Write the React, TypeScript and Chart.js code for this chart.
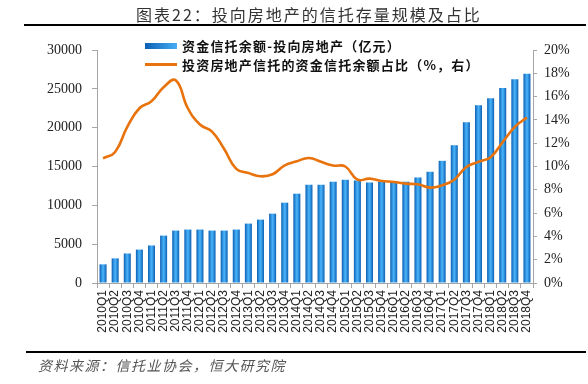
import React, { useEffect, useRef } from "react";
import { Chart, registerables } from "chart.js";

Chart.register(...registerables);

const categories = [
  "2010Q1", "2010Q2", "2010Q3", "2010Q4",
  "2011Q1", "2011Q2", "2011Q3", "2011Q4",
  "2012Q1", "2012Q2", "2012Q3", "2012Q4",
  "2013Q1", "2013Q2", "2013Q3", "2013Q4",
  "2014Q1", "2014Q2", "2014Q3", "2014Q4",
  "2015Q1", "2015Q2", "2015Q3", "2015Q4",
  "2016Q1", "2016Q2", "2016Q3", "2016Q4",
  "2017Q1", "2017Q2", "2017Q3", "2017Q4",
  "2018Q1", "2018Q2", "2018Q3", "2018Q4",
];

const balance = [
  2400, 3170, 3800, 4300, 4830, 6100, 6750, 6880, 6880, 6750, 6750, 6880,
  7650, 8160, 8930, 10340, 11500, 12650, 12650, 13040, 13290, 13200, 12950, 13040,
  13040, 13040, 13590, 14320, 15730, 17750, 20700, 22900, 23800, 25100, 26250, 26930,
];

const share = [
  10.7, 11.25, 13.4, 15.0, 15.6, 16.8, 17.4, 15.0, 13.6, 13.0, 11.5, 9.8,
  9.44, 9.16, 9.33, 10.1, 10.45, 10.73, 10.4, 10.08, 10.0, 8.87, 8.96, 8.76,
  8.67, 8.53, 8.47, 8.19, 8.39, 8.87, 9.96, 10.4, 10.8, 12.1, 13.4, 14.2,
];

const leftTicks = [0, 5000, 10000, 15000, 20000, 25000, 30000];
const rightTicks = [0, 2, 4, 6, 8, 10, 12, 14, 16, 18, 20];

const barLabel = "资金信托余额-投向房地产（亿元）";
const lineLabel = "投资房地产信托的资金信托余额占比（%，右）";
const titleText = "图表22：投向房地产的信托存量规模及占比";
const sourceText = "资料来源：信托业协会，恒大研究院";

const BAR_DARK = "#0b5fb4";
const BAR_LIGHT = "#45aef5";
const LINE_COLOR = "#e8720c";
const AXIS_COLOR = "#a6a6a6";

export default function App() {
  const ref = useRef<HTMLCanvasElement | null>(null);

  useEffect(() => {
    const canvas = ref.current;
    if (!canvas) return;
    const barPct = 0.58;
    const chart = new Chart(canvas, {
      data: {
        labels: categories,
        datasets: [
          {
            type: "line",
            label: lineLabel,
            data: share,
            yAxisID: "y1",
            borderColor: LINE_COLOR,
            borderWidth: 2.6,
            pointRadius: 0,
            tension: 0.45,
            fill: false,
            order: 0,
          },
          {
            type: "bar",
            label: barLabel,
            data: balance,
            yAxisID: "y",
            barPercentage: barPct,
            categoryPercentage: 1,
            order: 1,
            backgroundColor: (ctx: any) => {
              const ch = ctx.chart;
              const xs = ch.scales && ch.scales.x;
              if (!xs || ctx.dataIndex == null) return BAR_DARK;
              const cx = xs.getPixelForValue(ctx.dataIndex);
              const w = (xs.width / categories.length) * barPct;
              if (!isFinite(cx) || !isFinite(w)) return BAR_DARK;
              const g = ch.ctx.createLinearGradient(cx - w / 2, 0, cx + w / 2, 0);
              g.addColorStop(0, BAR_DARK);
              g.addColorStop(0.45, BAR_LIGHT);
              g.addColorStop(0.55, BAR_LIGHT);
              g.addColorStop(1, BAR_DARK);
              return g;
            },
          },
        ],
      } as any,
      options: {
        responsive: false,
        animation: false,
        devicePixelRatio: 1,
        layout: { padding: { top: 50, left: 0, right: 0, bottom: 0 } },
        plugins: {
          legend: { display: false },
          tooltip: { enabled: false },
          title: { display: false },
        },
        scales: {
          x: {
            type: "category",
            offset: true,
            grid: {
              display: true,
              offset: true,
              drawOnChartArea: false,
              drawTicks: true,
              tickLength: 5,
              color: AXIS_COLOR,
            },
            border: { display: true, color: AXIS_COLOR },
            ticks: {
              autoSkip: false,
              maxRotation: 90,
              minRotation: 90,
              padding: 2,
              color: "#222",
              font: { family: "'Liberation Sans', Arial, sans-serif", size: 12 },
            },
            afterFit: (s: any) => {
              s.height = 101;
            },
          },
          y: {
            type: "linear",
            position: "left",
            min: 0,
            max: 30000,
            afterBuildTicks: (s: any) => {
              s.ticks = leftTicks.map((v) => ({ value: v }));
            },
            grid: {
              display: true,
              drawOnChartArea: false,
              drawTicks: true,
              tickLength: 5,
              color: AXIS_COLOR,
            },
            border: { display: true, color: AXIS_COLOR },
            ticks: {
              padding: 10,
              color: "#222",
              font: { family: "'Liberation Serif', 'Times New Roman', serif", size: 14 },
              callback: (v: any) => String(v),
            },
            afterFit: (s: any) => {
              s.width = 97;
            },
          },
          y1: {
            type: "linear",
            position: "right",
            min: 0,
            max: 20,
            afterBuildTicks: (s: any) => {
              s.ticks = rightTicks.map((v) => ({ value: v }));
            },
            grid: {
              display: true,
              drawOnChartArea: false,
              drawTicks: true,
              tickLength: 4,
              color: AXIS_COLOR,
            },
            border: { display: true, color: AXIS_COLOR },
            ticks: {
              padding: 7,
              color: "#222",
              font: { family: "'Liberation Serif', 'Times New Roman', serif", size: 14 },
              callback: (v: any) => v + "%",
            },
            afterFit: (s: any) => {
              s.width = 55;
            },
          },
        },
      } as any,
    });
    return () => chart.destroy();
  }, []);

  const cjk = "'Noto Sans CJK SC', 'Noto Sans', sans-serif";

  return (
    <div
      style={{
        position: "fixed",
        left: 0,
        top: 0,
        width: 588,
        height: 384,
        background: "#fff",
        overflow: "hidden",
      }}
    >
      <canvas
        ref={ref}
        width={588}
        height={384}
        style={{ position: "absolute", left: 0, top: 0, width: 588, height: 384 }}
      />
      <div
        style={{
          position: "absolute",
          left: 0,
          width: 588,
          top: 3,
          textAlign: "center",
          paddingLeft: 30,
          boxSizing: "border-box",
          fontFamily: cjk,
          fontSize: 16,
          letterSpacing: 2,
          lineHeight: "22px",
          color: "#333",
          whiteSpace: "nowrap",
        }}
      >
        {titleText}
      </div>
      <div
        style={{
          position: "absolute",
          left: 24,
          width: 562,
          top: 24,
          height: 2,
          background: "#000",
        }}
      />
      <div
        style={{
          position: "absolute",
          left: 145,
          top: 43,
          width: 32,
          height: 6,
          background: `linear-gradient(to right, ${BAR_DARK}, ${BAR_LIGHT})`,
        }}
      />
      <div
        style={{
          position: "absolute",
          left: 182,
          top: 37,
          fontFamily: cjk,
          fontSize: 13,
          fontWeight: 700,
          letterSpacing: 1.2,
          lineHeight: "18px",
          color: "#111",
          whiteSpace: "nowrap",
        }}
      >
        {barLabel}
      </div>
      <div
        style={{
          position: "absolute",
          left: 145,
          top: 63,
          width: 32,
          height: 3,
          background: LINE_COLOR,
        }}
      />
      <div
        style={{
          position: "absolute",
          left: 182,
          top: 56,
          fontFamily: cjk,
          fontSize: 13,
          fontWeight: 700,
          letterSpacing: 1.2,
          lineHeight: "18px",
          color: "#111",
          whiteSpace: "nowrap",
        }}
      >
        {lineLabel}
      </div>
      <div
        style={{
          position: "absolute",
          left: 26,
          width: 560,
          top: 351,
          height: 2,
          background: "#000",
        }}
      />
      <div
        style={{
          position: "absolute",
          left: 38,
          top: 356,
          fontFamily: cjk,
          fontSize: 14,
          fontStyle: "italic",
          letterSpacing: 1.5,
          lineHeight: "18px",
          color: "#555",
          whiteSpace: "nowrap",
        }}
      >
        {sourceText}
      </div>
    </div>
  );
}
